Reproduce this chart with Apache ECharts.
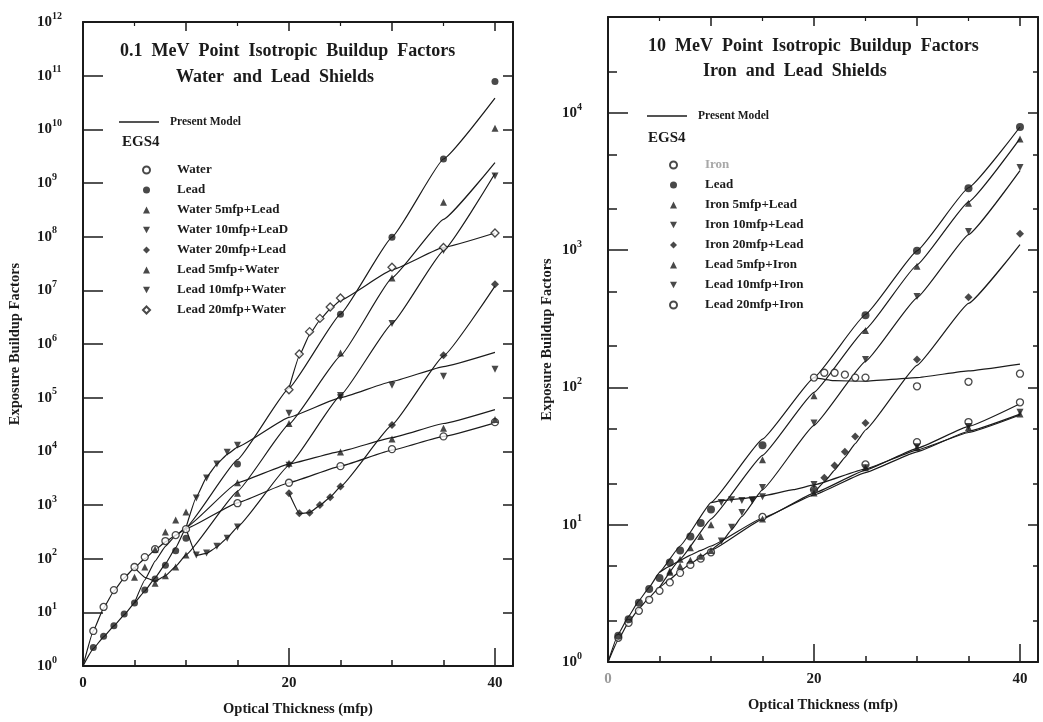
<!DOCTYPE html>
<html>
<head>
<meta charset="utf-8">
<title>Point Isotropic Buildup Factors</title>
<script src="https://cdn.jsdelivr.net/npm/echarts@6/dist/echarts.min.js"></script>
<style>
  html, body { margin: 0; padding: 0; background: #fff; }
  #main { width: 1043px; height: 722px; }
</style>
</head>
<body>
<div id="main"></div>
<script>
// ---------- 0.1 MeV, water and lead (left panel), EGS4 points ----------
var waterT = [1, 2, 3, 4, 5, 6, 7, 8, 9, 10, 15, 20, 25, 30, 35, 40];
var waterB = [4.5, 12.6, 26, 45, 70, 107, 150, 213, 275, 355, 1080, 2600, 5300, 11000, 19000, 35000];
var leadT = [1, 2, 3, 4, 5, 6, 7, 8, 9, 10, 15, 25, 30, 35, 40];
var leadB = [2.2, 3.6, 5.6, 9.3, 15, 26, 42, 75, 140, 240, 5800, 3.6e6, 9.8e7, 2.8e9, 7.8e10];
var water5LeadT = [7, 8, 9, 10, 15, 20, 25, 30, 35, 40];
var water5LeadB = [35, 48, 70, 117, 1650, 3.3e4, 6.8e5, 1.7e7, 4.4e8, 1.05e10];
var water10LeadT = [11, 12, 13, 14, 15, 20, 25, 30, 35, 40];
var water10LeadB = [117, 127, 170, 240, 390, 5500, 1.1e5, 2.4e6, 5.5e7, 1.35e9];
var water20LeadT = [20, 21, 22, 23, 24, 25, 30, 35, 40];
var water20LeadB = [1650, 700, 720, 1000, 1400, 2200, 3.1e4, 6.2e5, 1.3e7];
var lead5WaterT = [5, 6, 7, 8, 9, 10, 15, 20, 25, 30, 35, 40];
var lead5WaterB = [45, 70, 150, 315, 525, 740, 2600, 6000, 9700, 1.7e4, 2.7e4, 3.9e4];
var lead10WaterT = [11, 12, 13, 14, 15, 20, 25, 30, 35, 40];
var lead10WaterB = [1350, 3200, 5800, 9600, 1.3e4, 5.1e4, 1e5, 1.7e5, 2.5e5, 3.4e5];
var lead20WaterT = [20, 21, 22, 23, 24, 25, 30, 35, 40];
var lead20WaterB = [1.4e5, 6.5e5, 1.7e6, 3.0e6, 4.9e6, 7.2e6, 2.7e7, 6.3e7, 1.17e8];

// present model curves (left panel)
var waterFitT = [0, 1, 2, 3, 4, 5, 6, 7, 8, 9, 10, 15, 20, 25, 30, 35, 40];
var waterFitB = [1, 4.5, 12, 25, 44, 68, 100, 145, 205, 275, 360, 1100, 2600, 5300, 10500, 19000, 34000];
var leadFitT = [0, 1, 2, 3, 4, 5, 6, 7, 8, 9, 10, 15, 20, 25, 30, 35, 40];
var leadFitB = [1, 2.1, 3.5, 5.6, 9, 15, 25, 44, 80, 160, 380, 7000, 1.5e5, 3.6e6, 9.8e7, 2.8e9, 3.8e10];
var water5LeadFitT = [5, 6, 7, 8, 9, 10, 15, 20, 25, 30, 35, 40];
var water5LeadFitB = [68, 45, 38, 48, 72, 118, 1800, 3.2e4, 6e5, 1.7e7, 2.1e8, 2.4e9];
var water10LeadFitT = [10, 11, 12, 13, 14, 15, 20, 25, 30, 35, 40];
var water10LeadFitB = [360, 115, 125, 165, 245, 390, 5500, 1.1e5, 2.4e6, 5.5e7, 1.5e9];
var water20LeadFitT = [20, 21, 22, 23, 24, 25, 30, 35, 40];
var water20LeadFitB = [1650, 690, 720, 980, 1400, 2200, 3.1e4, 6e5, 1.2e7];
var lead5WaterFitT = [5, 6, 7, 8, 9, 10, 15, 20, 25, 30, 35, 40];
var lead5WaterFitB = [15, 40, 90, 170, 270, 380, 2600, 5800, 1e4, 1.8e4, 3.3e4, 6e4];
var lead10WaterFitT = [10, 11, 12, 13, 14, 15, 20, 25, 30, 35, 40];
var lead10WaterFitB = [380, 1400, 3300, 5800, 8800, 1.2e4, 4.3e4, 1e5, 2e5, 3.8e5, 7e5];
var lead20WaterFitT = [20, 21, 22, 23, 24, 25, 30, 35, 40];
var lead20WaterFitB = [1.5e5, 6e5, 1.5e6, 2.8e6, 4.5e6, 6.5e6, 2.4e7, 6.3e7, 1.17e8];

// ---------- 10 MeV, iron and lead (right panel), EGS4 points ----------
var ironT = [1, 2, 3, 4, 5, 6, 7, 8, 9, 10, 15, 20, 25, 30, 35, 40];
var ironB = [1.5, 1.93, 2.36, 2.84, 3.3, 3.8, 4.46, 5.1, 5.66, 6.3, 11.4, 18, 27.5, 40, 56, 78];
var pbT = [1, 2, 3, 4, 5, 6, 7, 8, 9, 10, 15, 25, 30, 35, 40];
var pbB = [1.55, 2.05, 2.7, 3.4, 4.1, 5.3, 6.5, 8.2, 10.3, 12.9, 38, 336, 990, 2830, 7900];
var iron5LeadT = [6, 7, 8, 9, 10, 15, 20, 25, 30, 35, 40];
var iron5LeadB = [4.5, 5.6, 6.8, 8.2, 10, 29.8, 87, 260, 765, 2200, 6470];
var iron10LeadT = [11, 12, 13, 14, 15, 20, 25, 30, 35, 40];
var iron10LeadB = [7.6, 9.6, 12.3, 15, 18.7, 55, 160, 460, 1370, 4000];
var iron20LeadT = [20, 21, 22, 23, 24, 25, 30, 35, 40];
var iron20LeadB = [18, 22, 27, 34, 44, 55, 160, 455, 1320];
var lead5IronT = [6, 7, 8, 9, 10, 15, 20, 25, 30, 35, 40];
var lead5IronB = [4.6, 5.0, 5.5, 5.9, 6.5, 11, 17, 26, 36.5, 51, 64];
var lead10IronT = [11, 12, 13, 14, 15, 20, 25, 30, 35, 40];
var lead10IronB = [14.5, 15.2, 15, 15.2, 16, 19.6, 26, 37, 52, 66];
var lead20IronT = [20, 21, 22, 23, 24, 25, 30, 35, 40];
var lead20IronB = [118, 128, 128, 124, 118, 118, 102, 110, 126];

// present model curves (right panel)
var ironFitT = [0, 1, 2, 3, 4, 5, 6, 7, 8, 9, 10, 15, 20, 25, 30, 35, 40];
var ironFitB = [1, 1.45, 1.95, 2.45, 2.95, 3.5, 4.0, 4.6, 5.2, 5.8, 6.5, 11, 17, 25, 36, 52, 76];
var pbFitT = [0, 1, 2, 3, 4, 5, 7, 10, 15, 20, 25, 30, 35, 40];
var pbFitB = [1, 1.6, 2.15, 2.8, 3.5, 4.5, 7, 14.5, 42, 118, 340, 990, 2850, 7900];
var iron5LeadFitT = [5, 7, 10, 15, 20, 25, 30, 35, 40];
var iron5LeadFitB = [3.5, 5.6, 11, 32, 92, 265, 780, 2250, 6500];
var iron10LeadFitT = [10, 11, 12, 13, 15, 20, 25, 30, 35, 40];
var iron10LeadFitB = [6.5, 7.4, 9.2, 11.5, 18, 53, 155, 450, 1300, 3800];
var iron20LeadFitT = [20, 21, 22, 23, 24, 25, 30, 35, 40];
var iron20LeadFitB = [17, 20.5, 25, 31, 39, 49, 145, 410, 1100];
var lead5IronFitT = [5, 6, 7, 8, 9, 10, 15, 20, 25, 30, 35, 40];
var lead5IronFitB = [4.5, 5.0, 5.5, 6.0, 6.5, 7.0, 11.2, 16.5, 24, 34, 48, 64];
var lead10IronFitT = [10, 11, 13, 15, 18, 20, 25, 30, 35, 40];
var lead10IronFitB = [14.5, 15, 15.5, 16.2, 18, 19.5, 25.5, 35, 47, 63];
var lead20IronFitT = [20, 22, 25, 30, 35, 40];
var lead20IronFitB = [118, 112, 111, 118, 132, 148];

// axis ticks / labels
var xLabelTicks = [0, 20, 40];
var xMinorTicks = [5, 10, 15, 25, 30, 35];
var xTopTicks = [10, 20, 30, 40];
var leftDecades = [1, 10, 100, 1e3, 1e4, 1e5, 1e6, 1e7, 1e8, 1e9, 1e10, 1e11, 1e12];
var rightDecades = [1, 10, 100, 1e3, 1e4];
var rightMinor = [2, 5, 20, 50, 200, 500, 2000, 5000, 20000];

var INK = '#1b1b1b';
var FONT = '"Liberation Serif", "DejaVu Serif", serif';
var XMAX = 41.75;
var DOWN = 'path://M0,0L10,0L5,9Z';

var chart = echarts.init(document.getElementById('main'));

function pairs(t, b) {
  var out = [];
  for (var i = 0; i < t.length; i++) out.push([t[i], b[i]]);
  return out;
}

function fit(t, b, g) {
  return {
    name: 'Present Model', type: 'line',
    xAxisIndex: g * 4, yAxisIndex: g === 0 ? 0 : 2,
    data: pairs(t, b), showSymbol: false, smooth: 0.1, smoothMonotone: 'x',
    silent: true, z: 2,
    itemStyle: {color: INK},
    lineStyle: {color: INK, width: 1.2}
  };
}

function marks(name, t, b, g, sym, open, size) {
  return {
    name: name, type: 'scatter',
    xAxisIndex: g * 4, yAxisIndex: g === 0 ? 0 : 2,
    data: pairs(t, b), symbol: sym, symbolSize: size || 7,
    silent: true, z: 3,
    itemStyle: open ? {color: '#fff', borderColor: INK, borderWidth: 1.3} : {color: INK}
  };
}

function supLabel(v) {
  return '{b|10}{e|' + Math.round(Math.log10(v)) + '}';
}

var labelRich = {
  b: {fontFamily: FONT, fontWeight: 'bold', fontSize: 15, color: INK},
  e: {fontFamily: FONT, fontWeight: 'bold', fontSize: 10, color: INK, padding: [0, 0, 12, 0]},
  g: {fontFamily: FONT, fontWeight: 'bold', fontSize: 15, color: '#9a9a9a'}
};

function xAxes(g) {
  var base = {
    gridIndex: g, type: 'value', min: 0, max: XMAX,
    splitLine: {show: false}, axisLabel: {show: false},
    axisLine: {show: false, onZero: false}
  };
  return [
    Object.assign({}, base, {
      position: 'bottom',
      axisLine: {show: true, onZero: false, lineStyle: {color: INK, width: 2}},
      axisTick: {inside: true, length: 18, customValues: xLabelTicks, lineStyle: {color: INK, width: 1.5}},
      axisLabel: {
        show: true, customValues: xLabelTicks, margin: 10, rich: labelRich,
        formatter: function (v) { return (g === 1 && v === 0) ? '{g|0}' : '{b|' + v + '}'; }
      },
      name: 'Optical Thickness (mfp)', nameLocation: 'middle', nameGap: 36,
      nameTextStyle: {fontFamily: FONT, fontWeight: 'bold', fontSize: 14.5, color: INK}
    }),
    Object.assign({}, base, {
      position: 'bottom',
      axisTick: {inside: true, length: 6, customValues: xMinorTicks, lineStyle: {color: INK, width: 1.5}}
    }),
    Object.assign({}, base, {
      position: 'top',
      axisLine: {show: true, onZero: false, lineStyle: {color: INK, width: 2}},
      axisTick: {inside: true, length: 9, customValues: xTopTicks, lineStyle: {color: INK, width: 1.5}}
    }),
    Object.assign({}, base, {
      position: 'top',
      axisTick: {inside: true, length: 4, customValues: [5, 15, 25, 35], lineStyle: {color: INK, width: 1.2}}
    })
  ];
}

function yAxis(g, pos, max, ticks, len, main, nameGap) {
  var ax = {
    gridIndex: g, type: 'log', logBase: 10, min: 1, max: max, position: pos,
    splitLine: {show: false},
    axisLine: {show: main, onZero: false, lineStyle: {color: INK, width: 2}},
    axisTick: {inside: true, length: len, customValues: ticks, lineStyle: {color: INK, width: 1.5}},
    axisLabel: {show: false}
  };
  if (main && pos === 'left') {
    ax.axisLabel = {show: true, customValues: ticks, align: 'left', margin: 46, rich: labelRich, formatter: supLabel};
    ax.name = 'Exposure Buildup Factors';
    ax.nameLocation = 'middle';
    ax.nameGap = nameGap;
    ax.nameTextStyle = {fontFamily: FONT, fontWeight: 'bold', fontSize: 14.5, color: INK};
  }
  return ax;
}

var legendText = {fontFamily: FONT, fontWeight: 'bold', fontSize: 13, color: INK, lineHeight: 14, padding: [0, 0, 0, 22]};
var modelText = {fontFamily: FONT, fontWeight: 'bold', fontSize: 11.5, color: INK, padding: [0, 0, 0, 6]};
var titleText = {fontFamily: FONT, fontWeight: 'bold', fontSize: 18, color: INK};
var egsText = {fontFamily: FONT, fontWeight: 'bold', fontSize: 15, color: INK};

var option = {
  backgroundColor: '#fff',
  animation: false,
  grid: [
    {left: 83, top: 22, width: 430, height: 644},
    {left: 608, top: 17, width: 430, height: 645}
  ],
  title: [
    {text: '0.1  MeV  Point  Isotropic  Buildup  Factors', left: 120, top: 42, padding: 0, textStyle: titleText},
    {text: 'Water  and  Lead  Shields', left: 176, top: 68, padding: 0, textStyle: titleText},
    {text: 'EGS4', left: 122, top: 135, padding: 0, textStyle: egsText},
    {text: '10  MeV  Point  Isotropic  Buildup  Factors', left: 648, top: 37, padding: 0, textStyle: titleText},
    {text: 'Iron  and  Lead  Shields', left: 703, top: 62, padding: 0, textStyle: titleText},
    {text: 'EGS4', left: 648, top: 131, padding: 0, textStyle: egsText}
  ],
  legend: [
    {
      data: ['Present Model'], left: 114, top: 111, icon: 'rect', itemWidth: 40, itemHeight: 1.5,
      selectedMode: false, textStyle: modelText
    },
    {
      data: ['Water', 'Lead', 'Water 5mfp+Lead', 'Water 10mfp+LeaD', 'Water 20mfp+Lead',
             'Lead 5mfp+Water', 'Lead 10mfp+Water', 'Lead 20mfp+Water'],
      orient: 'vertical', left: 137, top: 158, itemWidth: 7, itemHeight: 7, itemGap: 6,
      selectedMode: false, textStyle: legendText
    },
    {
      data: ['Present Model'], left: 642, top: 105, icon: 'rect', itemWidth: 40, itemHeight: 1.5,
      selectedMode: false, textStyle: modelText
    },
    {
      data: [{name: 'Iron', textStyle: {color: '#a8a8a8'}}, 'Lead ', 'Iron 5mfp+Lead', 'Iron 10mfp+Lead',
             'Iron 20mfp+Lead', 'Lead 5mfp+Iron', 'Lead 10mfp+Iron', 'Lead 20mfp+Iron'],
      orient: 'vertical', left: 664, top: 153, itemWidth: 7, itemHeight: 7, itemGap: 6,
      selectedMode: false, textStyle: Object.assign({}, legendText, {padding: [0, 0, 0, 23]})
    }
  ],
  xAxis: xAxes(0).concat(xAxes(1)),
  yAxis: [
    yAxis(0, 'left', 1e12, leftDecades, 20, true, 60),
    yAxis(0, 'right', 1e12, leftDecades, 10, true),
    yAxis(1, 'left', 5e4, rightDecades, 20, true, 53),
    yAxis(1, 'right', 5e4, rightDecades, 10, true),
    yAxis(1, 'left', 5e4, rightMinor, 9, false),
    yAxis(1, 'right', 5e4, rightMinor, 5, false)
  ],
  series: [
    fit(waterFitT, waterFitB, 0),
    fit(leadFitT, leadFitB, 0),
    fit(water5LeadFitT, water5LeadFitB, 0),
    fit(water10LeadFitT, water10LeadFitB, 0),
    fit(water20LeadFitT, water20LeadFitB, 0),
    fit(lead5WaterFitT, lead5WaterFitB, 0),
    fit(lead10WaterFitT, lead10WaterFitB, 0),
    fit(lead20WaterFitT, lead20WaterFitB, 0),
    marks('Water', waterT, waterB, 0, 'circle', true, 7),
    marks('Lead', leadT, leadB, 0, 'circle', false, 7),
    marks('Water 5mfp+Lead', water5LeadT, water5LeadB, 0, 'triangle', false, 7),
    marks('Water 10mfp+LeaD', water10LeadT, water10LeadB, 0, DOWN, false, 7),
    marks('Water 20mfp+Lead', water20LeadT, water20LeadB, 0, 'diamond', false, 8),
    marks('Lead 5mfp+Water', lead5WaterT, lead5WaterB, 0, 'triangle', false, 7),
    marks('Lead 10mfp+Water', lead10WaterT, lead10WaterB, 0, DOWN, false, 7),
    marks('Lead 20mfp+Water', lead20WaterT, lead20WaterB, 0, 'diamond', true, 8),

    fit(ironFitT, ironFitB, 1),
    fit(pbFitT, pbFitB, 1),
    fit(iron5LeadFitT, iron5LeadFitB, 1),
    fit(iron10LeadFitT, iron10LeadFitB, 1),
    fit(iron20LeadFitT, iron20LeadFitB, 1),
    fit(lead5IronFitT, lead5IronFitB, 1),
    fit(lead10IronFitT, lead10IronFitB, 1),
    fit(lead20IronFitT, lead20IronFitB, 1),
    marks('Iron', ironT, ironB, 1, 'circle', true, 7),
    marks('Lead ', pbT, pbB, 1, 'circle', false, 8),
    marks('Iron 5mfp+Lead', iron5LeadT, iron5LeadB, 1, 'triangle', false, 7),
    marks('Iron 10mfp+Lead', iron10LeadT, iron10LeadB, 1, DOWN, false, 7),
    marks('Iron 20mfp+Lead', iron20LeadT, iron20LeadB, 1, 'diamond', false, 8),
    marks('Lead 5mfp+Iron', lead5IronT, lead5IronB, 1, 'triangle', false, 7),
    marks('Lead 10mfp+Iron', lead10IronT, lead10IronB, 1, DOWN, false, 7),
    marks('Lead 20mfp+Iron', lead20IronT, lead20IronB, 1, 'circle', true, 7)
  ]
};

chart.setOption(option);
</script>
</body>
</html>
